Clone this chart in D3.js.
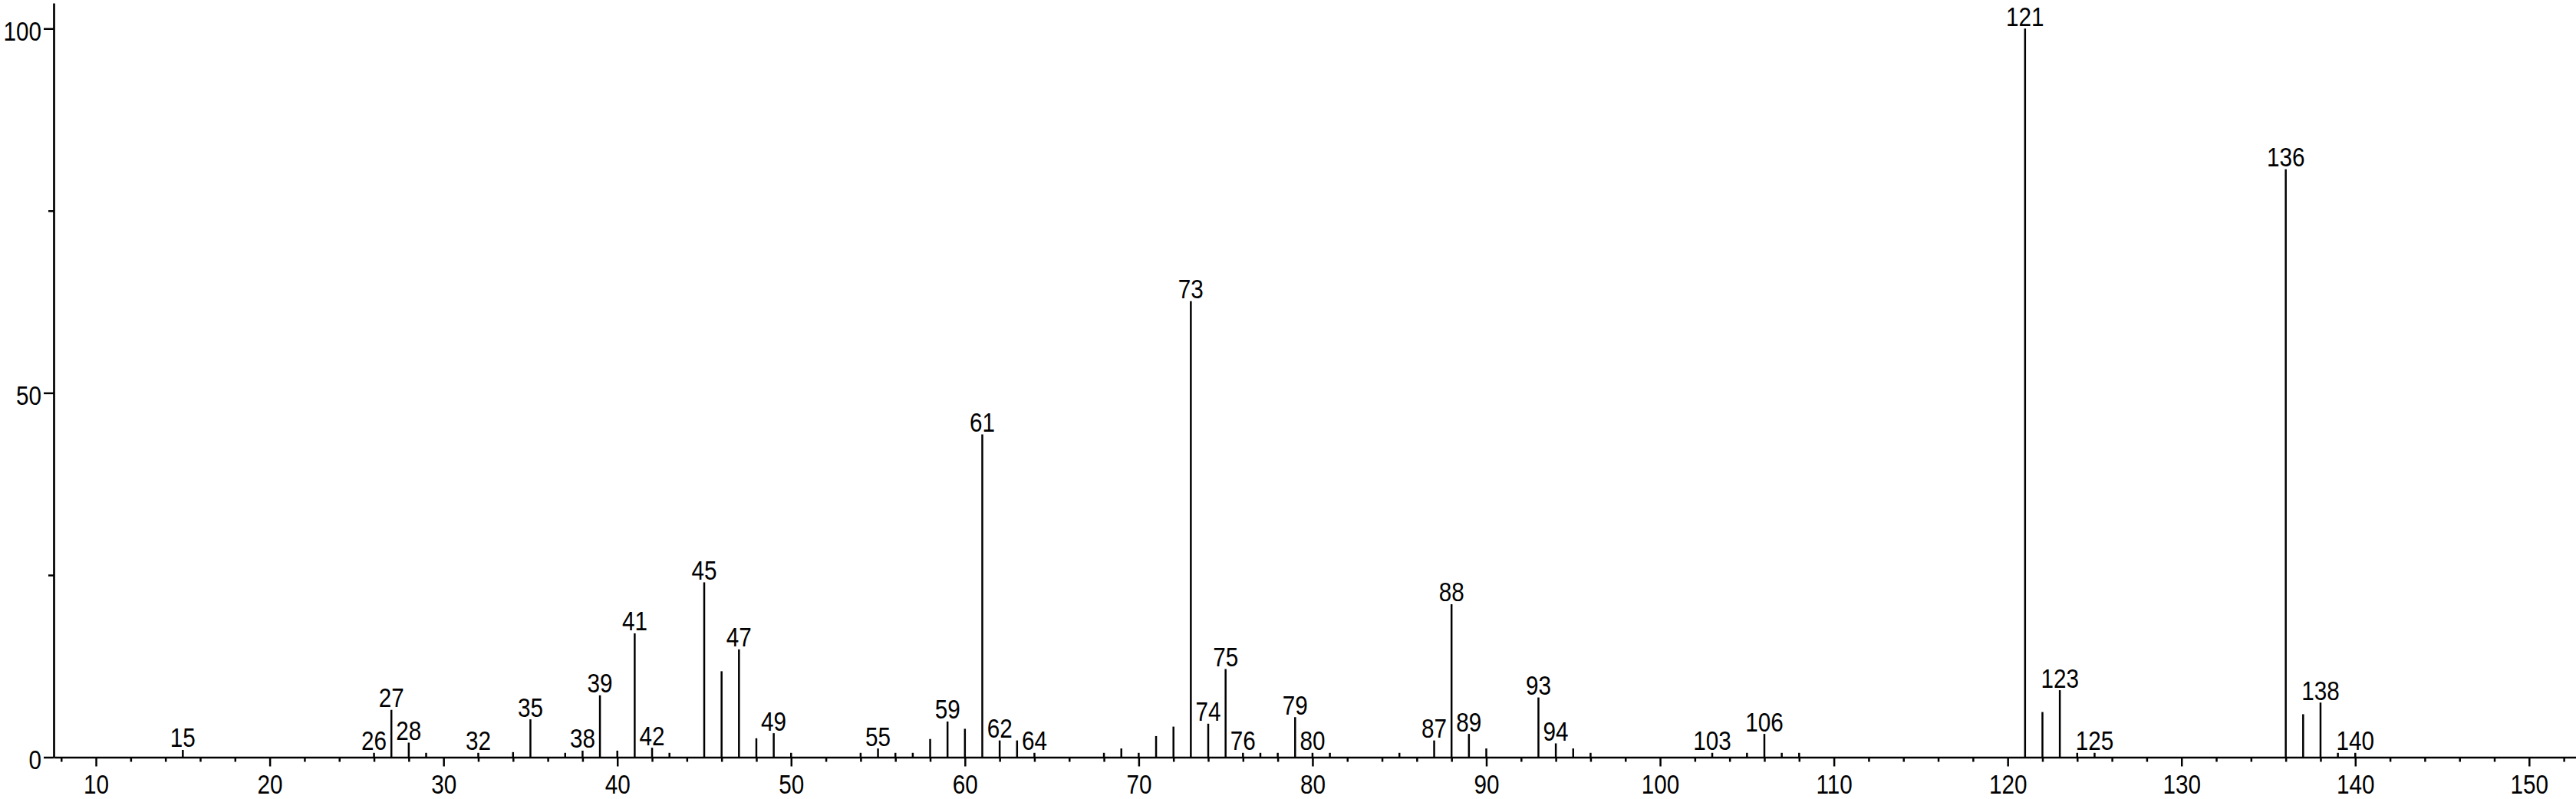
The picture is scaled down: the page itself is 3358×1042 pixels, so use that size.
<!DOCTYPE html>
<html lang="en">
<head>
    <meta charset="UTF-8">
    <title>Mass spectrum</title>
    <script src="https://d3js.org/d3.v7.min.js"></script>
    <style>
        html, body { margin: 0; padding: 0; background: #fff; }
        svg { display: block; }
        text { font-family: "Liberation Sans", Arial, sans-serif; font-size: 35.5px; fill: #000; }
    </style>
</head>
<body>
    <svg width="3358" height="1042"></svg>

    <script>
        // m/z of every peak and its relative intensity (%)
        const mz = [15, 26, 27, 28, 29, 32, 34, 35, 37, 38, 39, 40, 41, 42, 43, 45, 46, 47, 48, 49, 50,
                    54, 55, 56, 57, 58, 59, 60, 61, 62, 63, 64, 68, 69, 70, 71, 72, 73, 74, 75, 76, 77, 78, 79, 80, 81,
                    85, 87, 88, 89, 90, 93, 94, 95, 96, 103, 105, 106, 107, 108,
                    121, 122, 123, 124, 125, 136, 137, 138, 139, 140];
        const intensity = [1.0, 0.6, 6.5, 2.0, 0.6, 0.6, 0.7, 5.2, 0.6, 0.9, 8.5, 0.9, 17.0, 1.3, 0.6, 24.0, 11.8, 14.8, 2.6, 3.3, 0.6,
                           0.6, 1.2, 0.6, 0.6, 2.5, 4.9, 3.9, 44.3, 2.3, 2.3, 0.6, 0.6, 1.2, 0.6, 2.9, 4.2, 62.6, 4.6, 12.1, 0.6, 0.6, 0.6, 5.5, 0.6, 0.6,
                           0.6, 2.3, 21.0, 3.2, 1.2, 8.2, 1.9, 1.2, 0.6, 0.6, 0.6, 3.2, 0.6, 0.6,
                           100, 6.2, 9.2, 0.6, 0.6, 80.7, 5.9, 7.5, 0.6, 0.6];
        // peaks that carry a number above them
        const labelled = [15, 26, 27, 28, 32, 35, 38, 39, 41, 42, 45, 47, 49, 55, 59, 61, 62, 64,
                          73, 74, 75, 76, 79, 80, 87, 88, 89, 93, 94, 103, 106, 121, 123, 125, 136, 138, 140];

        const xTicks = [10, 20, 30, 40, 50, 60, 70, 80, 90, 100, 110, 120, 130, 140, 150];
        const xMinor = d3.range(8, 153, 2).filter(d => d % 10 !== 0);
        const yTicks = [0, 50, 100];
        const yMinor = [25, 75];

        const peaks = mz.map((m, i) => ({ mz: m, value: intensity[i] }));

        const W = 3358, H = 1042;
        const x0 = 70, y0 = 987.5;
        const squeeze = 0.836; // narrow digits

        const svg = d3.select("svg");
        svg.append("rect").attr("width", W).attr("height", H).attr("fill", "#fff");

        const x = d3.scaleLinear().domain([7.57, 152.7]).range([x0, W]);
        const y = d3.scaleLinear().domain([0, 103.5]).range([y0, 4]);

        // minor ticks first so the axes sit on top
        svg.append("g")
           .attr("transform", `translate(0,${y0})`)
           .call(d3.axisBottom(x).tickValues(xMinor).tickSize(6).tickSizeOuter(0).tickFormat(""))
           .call(g => g.select(".domain").remove());

        svg.append("g")
           .attr("transform", `translate(${x0},0)`)
           .call(d3.axisLeft(y).tickValues(yMinor).tickSize(7).tickSizeOuter(0).tickFormat(""))
           .call(g => g.select(".domain").remove());

        const xAxis = svg.append("g")
           .attr("transform", `translate(0,${y0})`)
           .call(d3.axisBottom(x).tickValues(xTicks).tickSize(12).tickPadding(10).tickSizeOuter(0));

        const yAxis = svg.append("g")
           .attr("transform", `translate(${x0},0)`)
           .call(d3.axisLeft(y).tickValues(yTicks).tickSize(13).tickPadding(3).tickSizeOuter(0));

        xAxis.selectAll("text")
             .attr("font-family", null).attr("font-size", null)
             .attr("transform", `scale(${squeeze},1)`);

        yAxis.selectAll("text")
             .attr("dy", "0.42em")
             .attr("x", -16 / squeeze)
             .attr("transform", `scale(${squeeze},1)`);

        svg.selectAll(".tick line").attr("stroke", "#000").attr("stroke-width", 2.5);
        svg.selectAll(".domain").attr("stroke", "#000").attr("stroke-width", 2.7);
        svg.selectAll("g").attr("font-family", null).attr("font-size", null);

        // stems
        svg.append("g")
           .selectAll("line")
           .data(peaks)
           .enter()
           .append("line")
           .attr("x1", d => x(d.mz))
           .attr("x2", d => x(d.mz))
           .attr("y1", y(0))
           .attr("y2", d => y(d.value))
           .attr("stroke", "#000")
           .attr("stroke-width", 2.5);

        // peak labels
        svg.append("g")
           .selectAll("text")
           .data(peaks.filter(d => labelled.includes(d.mz)))
           .enter()
           .append("text")
           .attr("text-anchor", "middle")
           .attr("transform", d => `translate(${x(d.mz)},${y(d.value) - 3.5}) scale(${squeeze},1)`)
           .text(d => d.mz);
    </script>
</body>
</html>
